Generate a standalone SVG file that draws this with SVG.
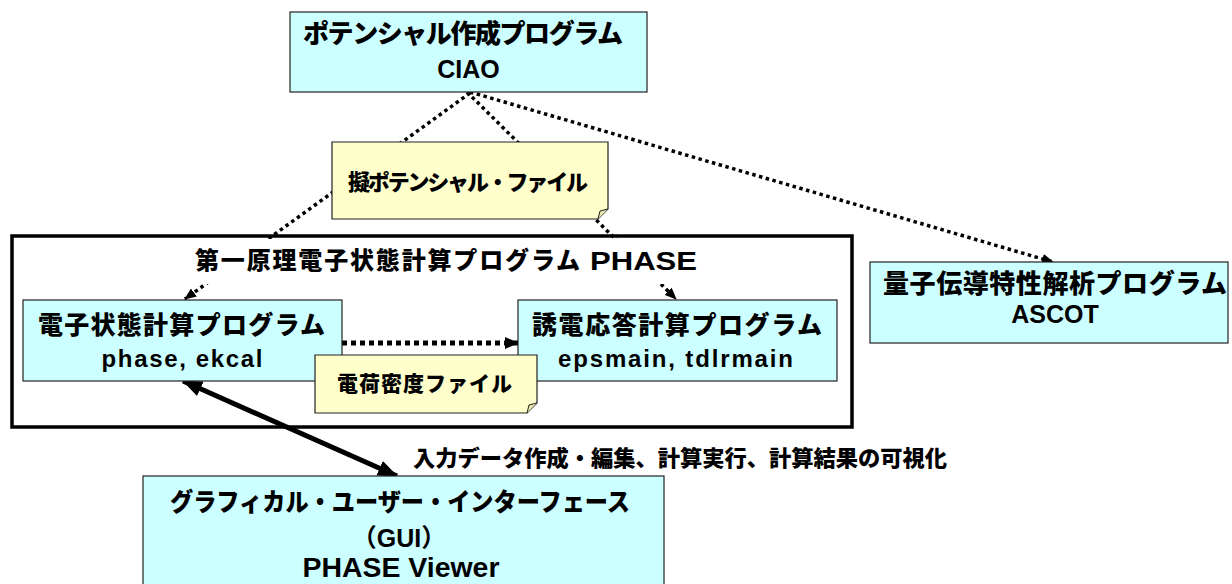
<svg xmlns="http://www.w3.org/2000/svg" width="1232" height="584" viewBox="0 0 1232 584">
<style>
text{font-family:"Liberation Sans","Noto Sans CJK JP",sans-serif;font-weight:bold;fill:#000;text-anchor:middle}
.cjk{font-family:"Noto Sans CJK JP","Liberation Sans",sans-serif;font-weight:900}
.prog{fill:#CCFFFF;stroke:#222;stroke-width:1.2}
.note{fill:#FFFFCC;stroke:#222;stroke-width:1.2}
.dot{fill:none;stroke:#000;stroke-width:3.5;stroke-dasharray:3.5 3.5}
.frame{fill:#fff;stroke:#000;stroke-width:3.5}
</style>
<defs>
<marker id="ah" viewBox="0 0 12 10" refX="11" refY="5" markerWidth="12" markerHeight="10" markerUnits="userSpaceOnUse" orient="auto">
<path d="M0,0 L12,5 L0,10 Z" fill="#000"/>
</marker>
<marker id="ahb" viewBox="0 0 20 16" refX="19" refY="8" markerWidth="20" markerHeight="16" markerUnits="userSpaceOnUse" orient="auto-start-reverse">
<path d="M0,0 L20,8 L0,16 Z" fill="#000"/>
</marker>
<marker id="ahm" viewBox="0 0 14 12" refX="13" refY="6" markerWidth="14" markerHeight="12" markerUnits="userSpaceOnUse" orient="auto">
<path d="M0,0 L14,6 L0,12 Z" fill="#000"/>
</marker>
</defs>

<g id="phase-frame">
<rect class="frame" x="12" y="236" width="840" height="191"/>
</g>

<g id="connectors">
<line class="dot" x1="470" y1="93" x2="185" y2="299" marker-end="url(#ah)"/>
<line class="dot" x1="467" y1="92" x2="676" y2="299" marker-end="url(#ah)"/>
<line class="dot" x1="470" y1="92" x2="1053" y2="262" marker-end="url(#ah)"/>
<line x1="342" y1="343" x2="518" y2="343" stroke="#000" stroke-width="5" stroke-dasharray="5 4" marker-end="url(#ahm)"/>
<line x1="183" y1="381" x2="397" y2="476" stroke="#000" stroke-width="5" marker-start="url(#ahb)" marker-end="url(#ahb)"/>
</g>

<g id="phase-title">
<rect x="180" y="239" width="530" height="45" fill="#fff"/>
<text class="cjk" x="387.5" y="269" font-size="24" textLength="385" lengthAdjust="spacing">第一原理電子状態計算プログラム</text>
<text x="643.5" y="270" font-size="26" textLength="107" lengthAdjust="spacingAndGlyphs">PHASE</text>
</g>

<g id="ciao">
<rect class="prog" x="290" y="12" width="357" height="80"/>
<text class="cjk" x="463" y="43" font-size="26" textLength="320" lengthAdjust="spacing">ポテンシャル作成プログラム</text>
<text x="468.5" y="78" font-size="25">CIAO</text>
</g>

<g id="pp-file">
<path class="note" d="M332,142 H608 V209 L598,219 H332 Z"/>
<path d="M598,219 L600,211 L608,209" fill="#e8e8b0" stroke="#222" stroke-width="1"/>
<text class="cjk" x="468" y="190" font-size="22" textLength="240" lengthAdjust="spacing">擬ポテンシャル・ファイル</text>
</g>

<g id="ekcal">
<rect class="prog" x="23" y="300" width="319" height="81"/>
<text class="cjk" x="181.5" y="334" font-size="25" textLength="287" lengthAdjust="spacing">電子状態計算プログラム</text>
<text x="182" y="367" font-size="24" textLength="161" lengthAdjust="spacing">phase, ekcal</text>
</g>

<g id="eps">
<rect class="prog" x="518" y="300" width="319" height="81"/>
<text class="cjk" x="677" y="334" font-size="25" textLength="290" lengthAdjust="spacing">誘電応答計算プログラム</text>
<text x="675.5" y="367" font-size="24" textLength="235" lengthAdjust="spacing">epsmain, tdlrmain</text>
</g>

<g id="charge-file">
<path class="note" d="M315,355 H537 V403 L527,413 H315 Z"/>
<path d="M527,413 L529,405 L537,403" fill="#e8e8b0" stroke="#222" stroke-width="1"/>
<text class="cjk" x="424.5" y="391" font-size="21" textLength="175" lengthAdjust="spacing">電荷密度ファイル</text>
</g>

<g id="ascot">
<rect class="prog" x="870" y="262" width="358" height="81"/>
<text class="cjk" x="1055" y="293" font-size="26" textLength="344" lengthAdjust="spacing">量子伝導特性解析プログラム</text>
<text x="1055" y="323" font-size="25">ASCOT</text>
</g>

<g id="gui">
<rect class="prog" x="143" y="476" width="521" height="130"/>
<text class="cjk" x="400" y="511" font-size="25" textLength="460" lengthAdjust="spacingAndGlyphs">グラフィカル・ユーザー・インターフェース</text>
<text x="399" y="547" font-size="25">（GUI）</text>
<text x="401" y="577" font-size="27" textLength="197" lengthAdjust="spacingAndGlyphs">PHASE  Viewer</text>
</g>

<g id="gui-label">
<text class="cjk" x="680" y="466" font-size="22" textLength="534" lengthAdjust="spacingAndGlyphs">入力データ作成・編集、計算実行、計算結果の可視化</text>
</g>
</svg>
